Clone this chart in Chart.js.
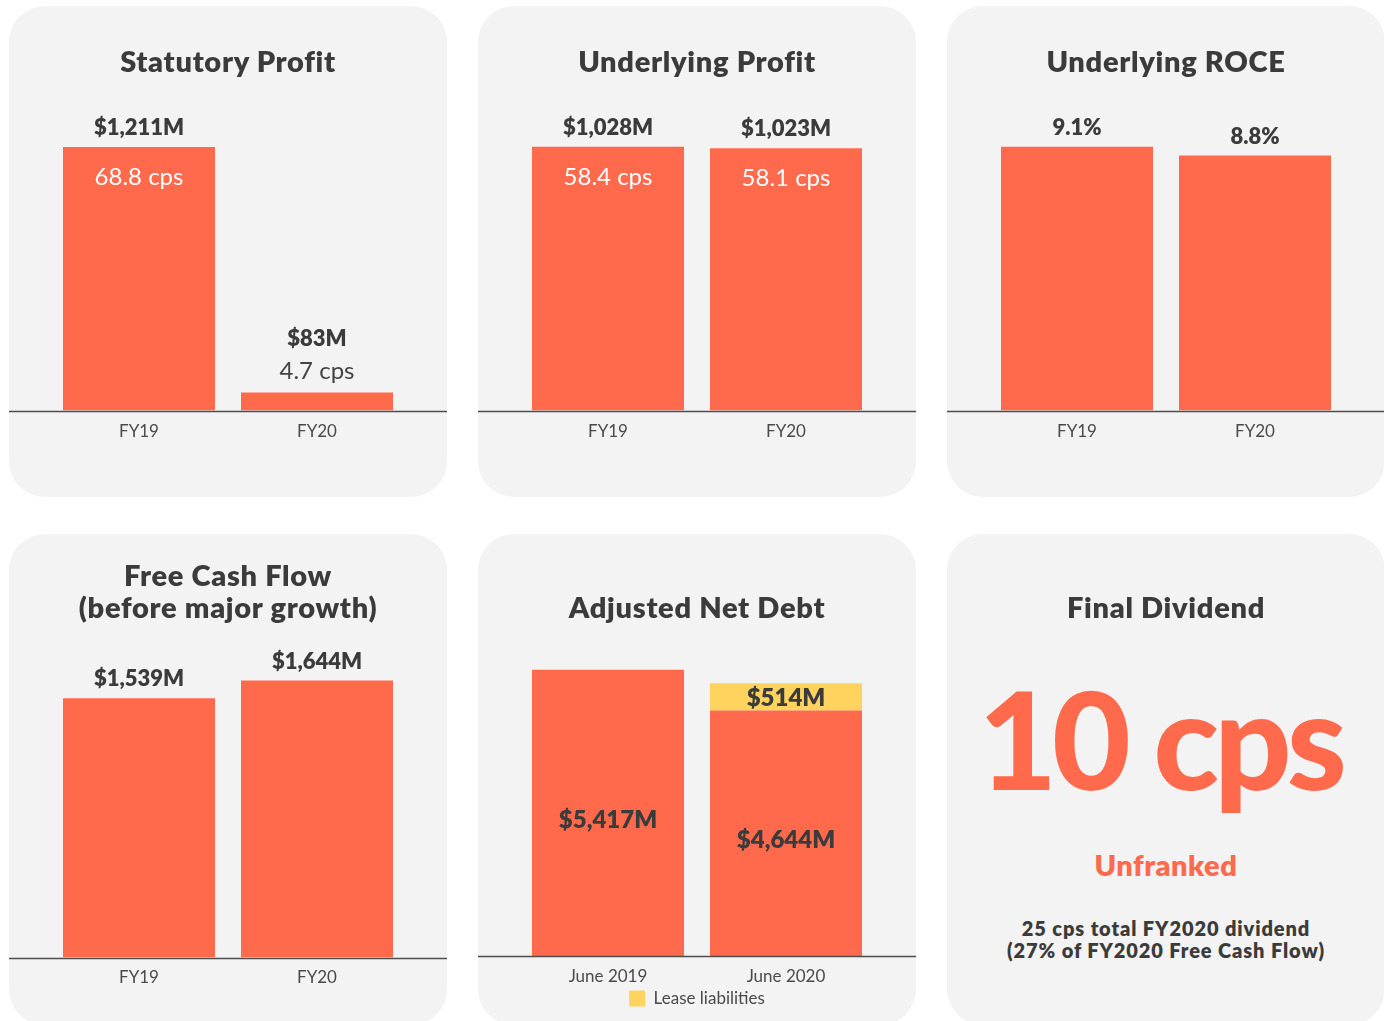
<!DOCTYPE html>
<html>
<head>
<meta charset="utf-8">
<script src="https://cdn.jsdelivr.net/npm/chart.js@4.4.1/dist/chart.umd.min.js"></script>
<style>
  body { margin: 0; background: #fff; width: 1384px; height: 1021px; overflow: hidden; font-family: Lato, sans-serif; }
  .panel { position: absolute; width: 438px; height: 491px; background: #f2f3f2; border-radius: 36px; overflow: hidden; }
  .panel canvas { position: absolute; left: 0; top: 0; }
  .title { position: absolute; left: 0; right: 0; text-align: center; font-weight: 800; font-size: 29px; line-height: 32px; color: #3b3b3b; letter-spacing: 0.7px; }
  .big { position: absolute; left: -12px; right: 0; text-align: center; color: #ff6a4d; font-weight: 900; font-size: 136px; line-height: 136px; letter-spacing: -5px; }
  .unfranked { position: absolute; left: 0; right: 0; text-align: center; color: #ff6a4d; font-weight: 800; font-size: 29px; line-height: 32px; letter-spacing: 0.5px; }
  .note { position: absolute; left: 0; right: 0; text-align: center; color: #3b3b3b; font-weight: 800; font-size: 20px; line-height: 22px; letter-spacing: 0.9px; }
</style>
</head>
<body>

<div class="panel" style="left:9px; top:6px;">
  <canvas id="statutory" width="438" height="491"></canvas>
  <div class="title" style="top:39px;">Statutory Profit</div>
</div>
<div class="panel" style="left:478px; top:6px;">
  <canvas id="underlying" width="438" height="491"></canvas>
  <div class="title" style="top:39px;">Underlying Profit</div>
</div>
<div class="panel" style="left:947px; top:6px;">
  <canvas id="roce" width="438" height="491"></canvas>
  <div class="title" style="top:39px;">Underlying ROCE</div>
</div>
<div class="panel" style="left:9px; top:534px;">
  <canvas id="fcf" width="438" height="491"></canvas>
  <div class="title" style="top:25px;">Free Cash Flow<br>(before major growth)</div>
</div>
<div class="panel" style="left:478px; top:534px;">
  <canvas id="debt" width="438" height="491"></canvas>
  <div class="title" style="top:57px;">Adjusted Net Debt</div>
</div>
<div class="panel" style="left:947px; top:534px;">
  <div class="title" style="top:57px;">Final Dividend</div>
  <div class="big" style="top:136px;">10 cps</div>
  <div class="unfranked" style="top:315px;">Unfranked</div>
  <div class="note" style="top:383px;">25 cps total FY2020 dividend<br>(27% of FY2020 Free Cash Flow)</div>
</div>

<script>
const fyLabels = ['FY19', 'FY20'];
const debtLabels = ['June 2019', 'June 2020'];

const statutoryProfit = [1211, 83];
const statutoryCps = [68.8, 4.7];
const underlyingProfit = [1028, 1023];
const underlyingCps = [58.4, 58.1];
const roce = [9.1, 8.8];
const freeCashFlow = [1539, 1644];
const netDebtExLeases = [5417, 4644];
const leaseLiabilities = [0, 514];

const ORANGE = '#ff6a4d';
const YELLOW = '#ffd35e';
const DARK = '#3b3b3b';

const money = v => '$' + v.toLocaleString('en-US') + 'M';
const cps = v => v.toFixed(1) + ' cps';
const pct = v => v.toFixed(1) + '%';

// line under the bars, across the whole card
const baseline = {
  id: 'baseline',
  afterDatasetsDraw(chart) {
    const ctx = chart.ctx;
    const y = Math.round(chart.scales.y.getPixelForValue(0)) + 0.5;
    ctx.save();
    ctx.strokeStyle = '#4d4d4d';
    ctx.lineWidth = 1.5;
    ctx.beginPath();
    ctx.moveTo(0, y);
    ctx.lineTo(chart.width, y);
    ctx.stroke();
    ctx.restore();
  }
};

// value labels: spec = [{dataset, text: [...], place: 'top'|'inner'|'center'}]
function valueLabels(spec) {
  return {
    id: 'valueLabels',
    afterDatasetsDraw(chart) {
      const ctx = chart.ctx;
      ctx.save();
      ctx.textAlign = 'center';
      ctx.textBaseline = 'middle';
      spec.forEach(s => {
        const meta = chart.getDatasetMeta(s.dataset);
        meta.data.forEach((bar, i) => {
          const text = s.text[i];
          if (!text) return;
          const { x, y, base } = bar.getProps(['x', 'y', 'base'], true);
          const short = base - y < 60;
          if (s.place === 'top') {
            ctx.font = '800 22px Lato';
            ctx.fillStyle = DARK;
            ctx.fillText(text, x, y - (short ? 54 : 19));
          } else if (s.place === 'inner') {
            ctx.font = '24px Lato';
            ctx.fillStyle = short ? '#444' : '#fff';
            ctx.fillText(text, x, short ? y - 21 : y + 30);
          } else {
            ctx.font = '800 24px Lato';
            ctx.fillStyle = DARK;
            ctx.fillText(text, x, (y + base) / 2 + (base - y > 100 ? 7 : 1));
          }
        });
      });
      ctx.restore();
    }
  };
}

function options(yMax, padBottom, tickPadding) {
  return {
    responsive: false,
    animation: false,
    layout: { padding: { left: 41, right: 41, top: 0, bottom: padBottom } },
    plugins: { legend: { display: false }, tooltip: { enabled: false } },
    scales: {
      x: {
        stacked: true,
        grid: { display: false, drawTicks: false },
        border: { display: false },
        ticks: { color: '#4a4a4a', font: { family: 'Lato', size: 17 }, padding: tickPadding }
      },
      y: { stacked: true, display: false, min: 0, max: yMax }
    }
  };
}

function bars(data, color) {
  return { data: data, backgroundColor: color, borderWidth: 0, barPercentage: 0.854, categoryPercentage: 1 };
}

new Chart(document.getElementById('statutory'), {
  type: 'bar',
  data: { labels: fyLabels, datasets: [bars(statutoryProfit, ORANGE)] },
  options: options(1858, 44, 11),
  plugins: [baseline, valueLabels([
    { dataset: 0, text: statutoryProfit.map(money), place: 'top' },
    { dataset: 0, text: statutoryCps.map(cps), place: 'inner' }
  ])]
});

new Chart(document.getElementById('underlying'), {
  type: 'bar',
  data: { labels: fyLabels, datasets: [bars(underlyingProfit, ORANGE)] },
  options: options(1577, 44, 11),
  plugins: [baseline, valueLabels([
    { dataset: 0, text: underlyingProfit.map(money), place: 'top' },
    { dataset: 0, text: underlyingCps.map(cps), place: 'inner' }
  ])]
});

new Chart(document.getElementById('roce'), {
  type: 'bar',
  data: { labels: fyLabels, datasets: [bars(roce, ORANGE)] },
  options: options(13.96, 44, 11),
  plugins: [baseline, valueLabels([
    { dataset: 0, text: roce.map(pct), place: 'top' }
  ])]
});

new Chart(document.getElementById('fcf'), {
  type: 'bar',
  data: { labels: fyLabels, datasets: [bars(freeCashFlow, ORANGE)] },
  options: options(2513, 27, 10),
  plugins: [baseline, valueLabels([
    { dataset: 0, text: freeCashFlow.map(money), place: 'top' }
  ])]
});

const debtOptions = options(7984, 8, 10);
// axis labels sit close above the legend, so keep the axis box short
debtOptions.scales.x.afterFit = scale => { scale.height = 32; };
debtOptions.plugins.legend = {
  display: true,
  position: 'bottom',
  labels: {
    filter: item => item.datasetIndex === 1,
    boxWidth: 16,
    boxHeight: 16,
    padding: 2,
    color: '#4a4a4a',
    font: { family: 'Lato', size: 17 }
  }
};

new Chart(document.getElementById('debt'), {
  type: 'bar',
  data: {
    labels: debtLabels,
    datasets: [
      Object.assign(bars(netDebtExLeases, ORANGE), { label: 'Net debt excl. leases' }),
      Object.assign(bars(leaseLiabilities, YELLOW), { label: 'Lease liabilities' })
    ]
  },
  options: debtOptions,
  plugins: [baseline, valueLabels([
    { dataset: 0, text: netDebtExLeases.map(money), place: 'center' },
    { dataset: 1, text: leaseLiabilities.map(v => v ? money(v) : ''), place: 'center' }
  ])]
});
</script>
</body>
</html>
